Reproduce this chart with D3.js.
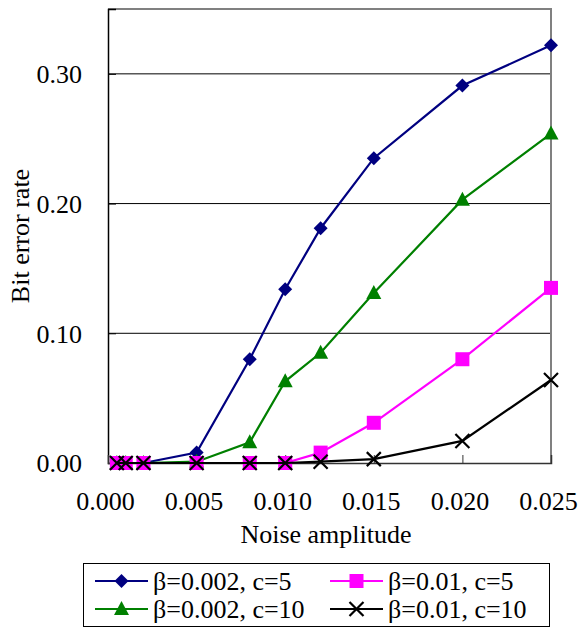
<!DOCTYPE html>
<html>
<head>
<meta charset="utf-8">
<script src="https://cdn.jsdelivr.net/npm/d3@7"></script>
<style>
  body { margin: 0; background: #fff; }
  text { font-family: "Liberation Serif", "Times New Roman", serif; fill: #000; }
</style>
</head>
<body>
<div id="chart"></div>
<script>
// noise amplitude (x) and bit error rate per series
const noise = [0.0005, 0.001, 0.002, 0.005, 0.008, 0.010, 0.012, 0.015, 0.020, 0.025];
const ber_b002_c5  = [0, 0, 0, 0.008, 0.080, 0.134, 0.181, 0.235, 0.291, 0.322];
const ber_b002_c10 = [0, 0, 0, 0.001, 0.016, 0.063, 0.085, 0.131, 0.203, 0.254];
const ber_b01_c5   = [0, 0, 0, 0, 0, 0, 0.008, 0.031, 0.080, 0.135];
const ber_b01_c10  = [0, 0, 0, 0, 0, 0, 0.001, 0.003, 0.017, 0.064];
const seriesNames = ["β=0.002, c=5", "β=0.002, c=10", "β=0.01, c=5", "β=0.01, c=10"];
const xTicks = [0, 0.005, 0.010, 0.015, 0.020, 0.025];
const yTicks = [0, 0.10, 0.20, 0.30];

const series = [
  { name: seriesNames[0], values: ber_b002_c5,  color: "#000080", marker: "diamond" },
  { name: seriesNames[1], values: ber_b002_c10, color: "#008000", marker: "triangle" },
  { name: seriesNames[2], values: ber_b01_c5,   color: "#ff00ff", marker: "square" },
  { name: seriesNames[3], values: ber_b01_c10,  color: "#000000", marker: "cross" }
];

const width = 578, height = 628;
const plot = { left: 108, right: 551, top: 9, bottom: 463 };
const fontSize = 26;

const svg = d3.select("#chart").append("svg")
  .attr("width", width).attr("height", height);

const xScale = d3.scaleLinear().domain([0, 0.025]).range([plot.left, plot.right]);
const yScale = d3.scaleLinear().domain([0, 0.35]).range([plot.bottom, plot.top]);

// gridlines
svg.append("g").selectAll("line")
  .data(yTicks.filter(d => d > 0))
  .join("line")
  .attr("x1", plot.left).attr("x2", plot.right)
  .attr("y1", d => yScale(d)).attr("y2", d => yScale(d))
  .attr("stroke", "#000").attr("stroke-width", 1);

// frame: top and right in gray
svg.append("path")
  .attr("d", `M${plot.left},${plot.top}H${plot.right}V${plot.bottom}`)
  .attr("fill", "none").attr("stroke", "#808080").attr("stroke-width", 2);

// y axis
const yAxis = d3.axisLeft(yScale).tickValues(yTicks).tickFormat(d3.format(".2f"))
  .tickSize(-8).tickPadding(26);
const gy = svg.append("g").attr("transform", `translate(${plot.left},0)`).call(yAxis);
gy.select(".domain").attr("stroke", "#000").attr("stroke-width", 1.5);
gy.selectAll(".tick line").attr("stroke", "#000");
gy.selectAll("text").attr("font-size", fontSize).attr("dy", "0.34em");

// x axis
const xAxis = d3.axisBottom(xScale).tickValues(xTicks).tickFormat(d3.format(".3f"))
  .tickSize(-8).tickPadding(29);
const gx = svg.append("g").attr("transform", `translate(0,${plot.bottom})`).call(xAxis);
gx.select(".domain").attr("stroke", "#333").attr("stroke-width", 1.5);
gx.selectAll(".tick line").attr("stroke", "#333");
gx.selectAll("text").attr("font-size", fontSize).attr("dx", -3);

// axis titles
svg.append("text")
  .attr("x", 326).attr("y", 543)
  .attr("text-anchor", "middle").attr("font-size", fontSize)
  .text("Noise amplitude");
svg.append("text")
  .attr("transform", "translate(29,236) rotate(-90)")
  .attr("text-anchor", "middle").attr("font-size", fontSize)
  .text("Bit error rate");

function drawMarker(g, type, color) {
  if (type === "diamond") {
    g.append("path").attr("d", "M0,-7L7,0L0,7L-7,0Z").attr("fill", color);
  } else if (type === "triangle") {
    g.append("path").attr("d", "M0,-8L7.5,6L-7.5,6Z").attr("fill", color);
  } else if (type === "square") {
    g.append("rect").attr("x", -7).attr("y", -7).attr("width", 14).attr("height", 14).attr("fill", color);
  } else {
    g.append("path").attr("d", "M-7,-7L7,7M-7,7L7,-7").attr("stroke", color).attr("stroke-width", 2.2);
  }
}

const line = d3.line().x((d, i) => xScale(noise[i])).y(d => yScale(d));

series.forEach(s => {
  const g = svg.append("g");
  g.append("path").datum(s.values)
    .attr("d", line).attr("fill", "none")
    .attr("stroke", s.color).attr("stroke-width", 2.2);
  g.selectAll(".pt").data(s.values).join("g")
    .attr("class", "pt")
    .attr("transform", (d, i) => `translate(${xScale(noise[i])},${yScale(d)})`)
    .each(function () { drawMarker(d3.select(this), s.marker, s.color); });
});

// legend
const legend = svg.append("g");
legend.append("rect")
  .attr("x", 83.5).attr("y", 563.5).attr("width", 466).attr("height", 63)
  .attr("fill", "#fff").attr("stroke", "#000").attr("stroke-width", 1);
const legendPos = [[95, 581], [95, 609], [330, 581], [330, 609]];
series.forEach((s, i) => {
  const [lx, ly] = legendPos[i];
  const g = legend.append("g");
  g.append("line").attr("x1", lx).attr("x2", lx + 53).attr("y1", ly).attr("y2", ly)
    .attr("stroke", s.color).attr("stroke-width", 2.2);
  const m = g.append("g").attr("transform", `translate(${lx + 26.5},${ly})`);
  drawMarker(m, s.marker, s.color);
  g.append("text").attr("x", lx + 58).attr("y", ly).attr("dy", "0.34em")
    .attr("font-size", fontSize).text(s.name);
});
</script>
</body>
</html>
